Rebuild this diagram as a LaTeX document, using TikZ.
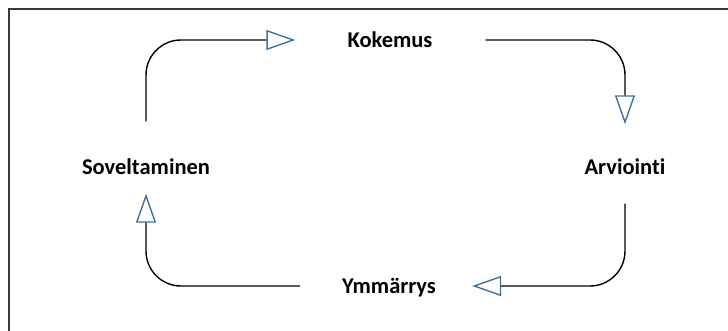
\documentclass[tikz,border=0pt]{standalone}
\usepackage{fontspec}
\setmainfont{Carlito}[Ligatures={NoCommon,NoContextual}]
\usetikzlibrary{arrows.meta}
\definecolor{tipblue}{HTML}{41719C}
\definecolor{framegray}{HTML}{3A3A3A}
\tikzset{
  stage/.style={font=\bfseries\fontsize{22.5}{26}\selectfont, inner sep=0pt,
                text height=15pt, text depth=0pt},
  cycle/.style={line width=1.4pt, rounded corners=35pt,
                -{Triangle[open, length=29pt, width=20pt, color=tipblue]}},
}
\begin{document}
\begin{tikzpicture}[x=1pt, y=-1pt]
  \useasboundingbox (0,0) rectangle (728,331);
  % outer frame
  \draw[framegray, line width=2pt] (9,331) -- (9,9) -- (728,9);

  % stages of the cycle
  \node[stage] (kok) at (390,40)  {Kokemus};
  \node[stage] (arv) at (625,167) {Arviointi};
  \node[stage] (ymm) at (389,286) {Ymmärrys};
  \node[stage] (sov) at (146,167) {Soveltaminen};

  % connectors
  \draw[cycle, shorten <=38pt, shorten >=52pt] (sov) |- (kok);
  \draw[cycle, shorten <=53pt, shorten >=35pt] (kok) -| (arv);
  \draw[cycle, shorten <=29pt, shorten >=36pt] (arv) |- (ymm);
  \draw[cycle, shorten <=42pt, shorten >=19pt] (ymm) -| (sov);
\end{tikzpicture}
\end{document}
